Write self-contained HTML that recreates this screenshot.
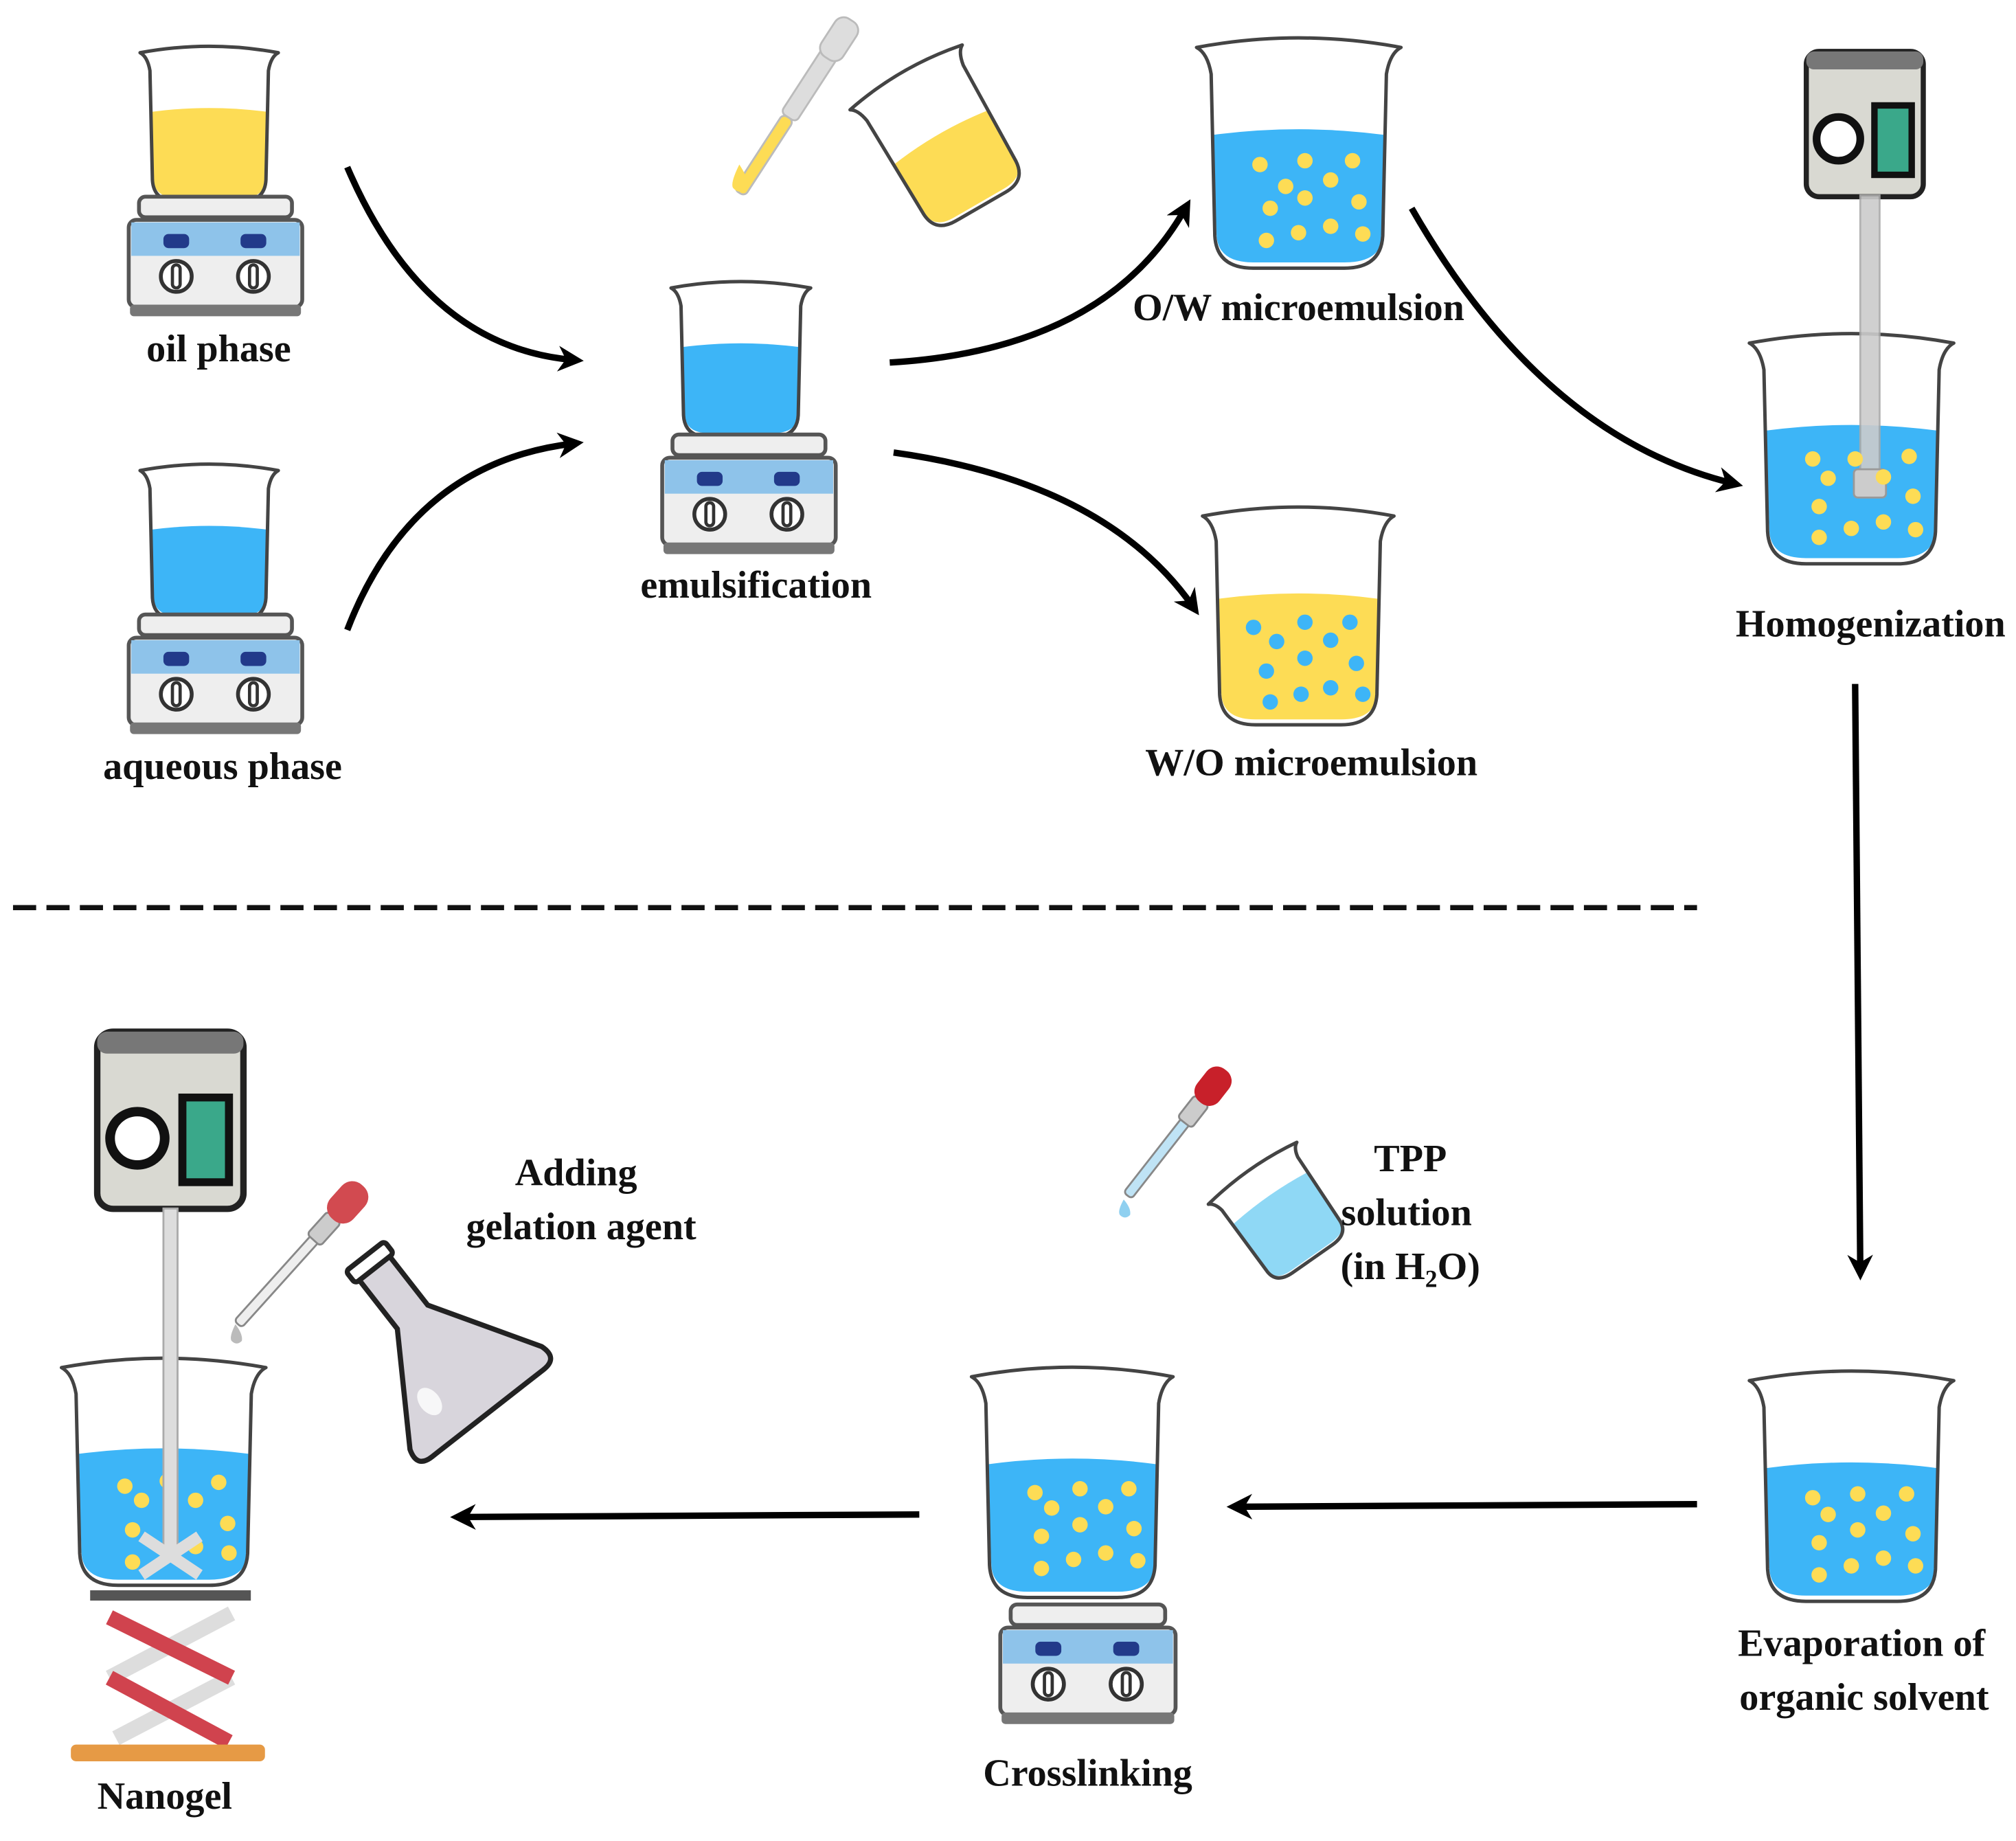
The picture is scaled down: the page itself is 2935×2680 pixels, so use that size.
<!DOCTYPE html>
<html><head><meta charset="utf-8"><style>
html,body{margin:0;padding:0;background:#fff}
svg{display:block}
text{font-family:"Liberation Serif",serif;font-weight:bold;font-size:30px;fill:#111;text-anchor:middle}
.o{fill:none;stroke:#444;stroke-width:5;vector-effect:non-scaling-stroke;stroke-linecap:round;stroke-linejoin:round}
.ar{fill:none;stroke:#000;stroke-width:5}
</style></head><body>
<svg width="2935" height="2680" viewBox="0 0 1568 1432" xmlns="http://www.w3.org/2000/svg">
<defs>
<marker id="ah" viewBox="0 0 10 10" refX="6" refY="5" markerWidth="4" markerHeight="4" orient="auto" markerUnits="strokeWidth">
<path d="M0,0 L10,5 L0,10 L3,5 Z" fill="#000"/></marker>
<g id="bk">
<path class="o" d="M4,6 Q60,-4 116,6 Q110,9 108,20 L106,105 Q105,122 85,122 L35,122 Q15,122 14,105 L12,20 Q10,9 4,6 Z"/>
</g>
<path id="lq" d="M13,52 Q60,46 107,52 L106,105 Q105,119 85,119 L35,119 Q16,119 15,105 Z"/>
<g id="hp">
<rect x="8" y="0" width="119" height="16" rx="5" fill="#eee" stroke="#555" stroke-width="3"/>
<rect x="0" y="18" width="135" height="68" rx="6" fill="#eee" stroke="#555" stroke-width="3"/>
<rect x="2" y="20" width="131" height="26" fill="#8ec3ea"/>
<rect x="27" y="29" width="20" height="11" rx="4" fill="#223a8a"/>
<rect x="87" y="29" width="20" height="11" rx="4" fill="#223a8a"/>
<circle cx="37" cy="62" r="12" fill="#fff" stroke="#333" stroke-width="3"/>
<circle cx="97" cy="62" r="12" fill="#fff" stroke="#333" stroke-width="3"/>
<rect x="34" y="53" width="6" height="18" rx="3" fill="none" stroke="#333" stroke-width="2.5"/>
<rect x="94" y="53" width="6" height="18" rx="3" fill="none" stroke="#333" stroke-width="2.5"/>
<rect x="1" y="84" width="133" height="9" rx="3" fill="#777"/>
</g>
<g id="hm">
<rect x="2" y="2" width="91" height="113" rx="10" fill="#d9d9d2" stroke="#222" stroke-width="4"/>
<rect x="2" y="2" width="91" height="14" rx="6" fill="#777"/>
<circle cx="27" cy="70" r="17" fill="#fff" stroke="#111" stroke-width="6"/>
<rect x="55" y="44" width="29" height="54" fill="#3aa88a" stroke="#111" stroke-width="5"/>
</g>
</defs>

<g transform="translate(105,35) scale(0.96,1)"><use href="#lq" fill="#fddc55"/><use href="#bk"/></g>
<g transform="translate(100,153)"><use href="#hp"/></g>
<g transform="translate(105,360) scale(0.96,1)"><use href="#lq" fill="#3db5f7"/><use href="#bk"/></g>
<g transform="translate(100,478)"><use href="#hp"/></g>
<g transform="translate(518,218) scale(0.97,1)"><use href="#lq" fill="#3db5f7"/><use href="#bk"/></g>
<g transform="translate(515,338)"><use href="#hp"/></g>
<g transform="translate(575,150) rotate(-57)">
<rect x="0" y="-5" width="70" height="10" rx="4" fill="#fddc55" stroke="#bbb" stroke-width="1.5"/>
<rect x="70" y="-7" width="60" height="14" rx="4" fill="#ddd" stroke="#bbb" stroke-width="1.5"/>
<rect x="125" y="-10" width="35" height="20" rx="8" fill="#ddd" stroke="#bbb" stroke-width="1.5"/>
</g>
<path d="M575,128 Q568,142 570,146 Q575,152 581,146 Q583,140 575,128Z" fill="#fddc55"/>
<g transform="translate(655,82) rotate(-30) scale(0.9,1)"><path d="M13,60 Q60,54 107,60 L106,105 Q105,119 85,119 L35,119 Q16,119 15,105 Z" fill="#fddc55"/><use href="#bk"/></g>
<g transform="translate(925,28) scale(1.42,1.48)"><use href="#lq" fill="#3db5f7"/><use href="#bk"/></g>
<g fill="#fddc55">
<circle cx="980" cy="128" r="6"/><circle cx="1015" cy="125" r="6"/><circle cx="1052" cy="125" r="6"/>
<circle cx="1000" cy="145" r="6"/><circle cx="1035" cy="140" r="6"/><circle cx="988" cy="162" r="6"/>
<circle cx="1015" cy="154" r="6"/><circle cx="1057" cy="157" r="6"/><circle cx="985" cy="187" r="6"/>
<circle cx="1010" cy="181" r="6"/><circle cx="1035" cy="176" r="6"/><circle cx="1060" cy="182" r="6"/>
</g>
<g transform="translate(930,393) scale(1.33,1.4)"><use href="#lq" fill="#fddc55"/><use href="#bk"/></g>
<g fill="#3db5f7">
<circle cx="975" cy="488" r="6"/><circle cx="1015" cy="484" r="6"/><circle cx="1050" cy="484" r="6"/>
<circle cx="993" cy="499" r="6"/><circle cx="1035" cy="498" r="6"/><circle cx="985" cy="522" r="6"/>
<circle cx="1015" cy="512" r="6"/><circle cx="1055" cy="516" r="6"/><circle cx="988" cy="546" r="6"/>
<circle cx="1012" cy="540" r="6"/><circle cx="1035" cy="535" r="6"/><circle cx="1060" cy="540" r="6"/>
</g>
<g transform="translate(1403,38)"><use href="#hm"/></g>
<g transform="translate(1355,258) scale(1.42,1.48)"><use href="#lq" fill="#3db5f7"/><use href="#bk"/></g>
<rect x="1447" y="152" width="15" height="235" fill="#ccc" stroke="#aaa" stroke-width="1.5" opacity="0.9"/>
<rect x="1442" y="365" width="25" height="22" rx="3" fill="#ccc" stroke="#999" stroke-width="1.5"/>
<g fill="#fddc55">
<circle cx="1410" cy="357" r="6"/><circle cx="1443" cy="357" r="6"/><circle cx="1485" cy="355" r="6"/>
<circle cx="1422" cy="372" r="6"/><circle cx="1465" cy="371" r="6"/><circle cx="1415" cy="394" r="6"/>
<circle cx="1488" cy="386" r="6"/><circle cx="1415" cy="418" r="6"/><circle cx="1440" cy="411" r="6"/>
<circle cx="1465" cy="406" r="6"/><circle cx="1490" cy="412" r="6"/>
</g>
<g transform="translate(1355,1065) scale(1.42,1.48)"><use href="#lq" fill="#3db5f7"/><use href="#bk"/></g>
<g fill="#fddc55">
<circle cx="1410" cy="1165" r="6"/><circle cx="1445" cy="1162" r="6"/><circle cx="1483" cy="1162" r="6"/>
<circle cx="1422" cy="1178" r="6"/><circle cx="1465" cy="1177" r="6"/><circle cx="1415" cy="1200" r="6"/>
<circle cx="1445" cy="1190" r="6"/><circle cx="1488" cy="1193" r="6"/><circle cx="1415" cy="1225" r="6"/>
<circle cx="1440" cy="1218" r="6"/><circle cx="1465" cy="1212" r="6"/><circle cx="1490" cy="1218" r="6"/>
</g>
<g transform="translate(750,1062) scale(1.4,1.48)"><use href="#lq" fill="#3db5f7"/><use href="#bk"/></g>
<g fill="#fddc55">
<circle cx="805" cy="1161" r="6"/><circle cx="840" cy="1158" r="6"/><circle cx="878" cy="1158" r="6"/>
<circle cx="818" cy="1173" r="6"/><circle cx="860" cy="1172" r="6"/><circle cx="810" cy="1195" r="6"/>
<circle cx="840" cy="1186" r="6"/><circle cx="882" cy="1189" r="6"/><circle cx="810" cy="1220" r="6"/>
<circle cx="835" cy="1213" r="6"/><circle cx="860" cy="1208" r="6"/><circle cx="885" cy="1214" r="6"/>
</g>
<g transform="translate(778,1248) scale(1.01,1)"><use href="#hp"/></g>
<g transform="translate(877,930) rotate(-52)">
<rect x="0" y="-4" width="75" height="8" rx="3" fill="#bfe3f5" stroke="#888" stroke-width="1.5"/>
<rect x="72" y="-7" width="22" height="14" rx="3" fill="#ccc" stroke="#888" stroke-width="1.5"/>
<rect x="92" y="-11" width="32" height="22" rx="10" fill="#c8202a"/>
</g>
<path d="M874,933 Q869,942 871,945 Q875,949 879,945 Q880,940 874,933Z" fill="#8fd0f0"/>
<g transform="translate(935,935) rotate(-35) scale(0.75,0.7)"><path d="M13,40 Q60,34 107,40 L106,105 Q105,119 85,119 L35,119 Q16,119 15,105 Z" fill="#8fd8f5"/><use href="#bk"/></g>
<g transform="translate(73,800) scale(1.25,1.22)"><use href="#hm"/></g>
<g transform="translate(42,1055) scale(1.42,1.46)"><use href="#lq" fill="#3db5f7"/><use href="#bk"/></g>
<g fill="#fddc55">
<circle cx="97" cy="1156" r="6"/><circle cx="130" cy="1152" r="6"/><circle cx="170" cy="1153" r="6"/>
<circle cx="110" cy="1167" r="6"/><circle cx="152" cy="1167" r="6"/><circle cx="103" cy="1190" r="6"/>
<circle cx="177" cy="1185" r="6"/><circle cx="103" cy="1215" r="6"/><circle cx="152" cy="1203" r="6"/><circle cx="178" cy="1208" r="6"/>
</g>
<rect x="127" y="940" width="11" height="272" fill="#ddd" stroke="#aaa" stroke-width="1.5"/>
<path d="M110,1195 L155,1225 M155,1195 L110,1225" stroke="#ddd" stroke-width="9"/>
<rect x="70" y="1237" width="125" height="8" fill="#555"/>
<g stroke-width="12" fill="none">
<path d="M180,1255 L85,1305 M180,1305 L90,1352" stroke="#ddd"/>
<path d="M85,1258 L180,1305 M85,1305 L178,1355" stroke="#d0434e"/>
</g>
<rect x="55" y="1357" width="151" height="13" rx="4" fill="#e69a45"/>
<g transform="translate(185,1030) rotate(-48)">
<rect x="0" y="-4" width="90" height="8" rx="3" fill="#eee" stroke="#888" stroke-width="1.5"/>
<rect x="88" y="-7" width="24" height="14" rx="3" fill="#ccc" stroke="#888" stroke-width="1.5"/>
<rect x="110" y="-12" width="35" height="24" rx="11" fill="#d24a50"/>
</g>
<path d="M183,1030 Q178,1040 180,1043 Q184,1047 188,1043 Q189,1038 183,1030Z" fill="#bbb"/>
<g transform="translate(290,985) rotate(-38)">
<path d="M-15,0 L15,0 L15,50 L65,130 Q70,145 55,145 L-55,145 Q-70,145 -65,130 L-15,50 Z" fill="#d8d5dc" stroke="#222" stroke-width="4"/>
<rect x="-19" y="-10" width="38" height="12" rx="3" fill="#fff" stroke="#222" stroke-width="4"/>
<ellipse cx="-30" cy="110" rx="8" ry="12" fill="#fff" opacity="0.8"/>
</g>

<path class="ar" d="M270,130 Q330,270 446,280" marker-end="url(#ah)"/>
<path class="ar" d="M270,490 Q320,360 446,345" marker-end="url(#ah)"/>
<path class="ar" d="M692,282 Q860,272 922,162" marker-end="url(#ah)"/>
<path class="ar" d="M695,352 Q860,375 928,472" marker-end="url(#ah)"/>
<path class="ar" d="M1098,162 Q1200,340 1348,376" marker-end="url(#ah)"/>
<path class="ar" d="M1443,532 L1447,988" marker-end="url(#ah)"/>
<path class="ar" d="M1320,1170 L962,1172" marker-end="url(#ah)"/>
<path class="ar" d="M715,1178 L358,1180" marker-end="url(#ah)"/>
<line x1="10" y1="706" x2="1320" y2="706" stroke="#111" stroke-width="4" stroke-dasharray="18,8"/>

<text x="170" y="281">oil phase</text>
<text x="173" y="606">aqueous phase</text>
<text x="588" y="465">emulsification</text>
<text x="1010" y="249">O/W microemulsion</text>
<text x="1020" y="603">W/O microemulsion</text>
<text x="1455" y="495">Homogenization</text>
<text x="1448" y="1288">Evaporation of</text>
<text x="1450" y="1330">organic solvent</text>
<text x="846" y="1389">Crosslinking</text>
<text x="128" y="1407">Nanogel</text>
<text x="448" y="922">Adding</text>
<text x="452" y="964">gelation agent</text>
<text x="1097" y="911">TPP</text>
<text x="1094" y="953">solution</text>
<text x="1097" y="995">(in H<tspan font-size="19" dy="6">2</tspan><tspan dy="-6">O)</tspan></text>
</svg>
</body></html>
